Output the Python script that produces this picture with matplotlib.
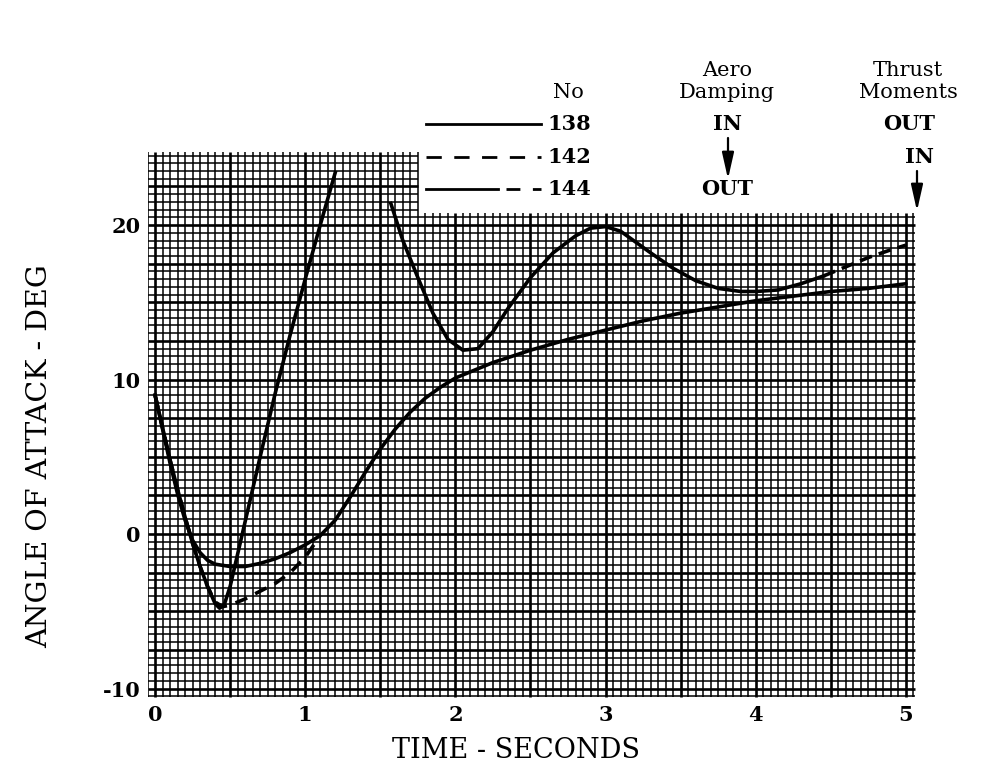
import numpy as np
import matplotlib
matplotlib.use("Agg")
import matplotlib.pyplot as plt
from matplotlib.lines import Line2D
from matplotlib.patches import FancyArrowPatch

# ---- data: angle of attack (deg) vs time (s) for three runs ----
t_138 = [0.0, 0.05, 0.1, 0.15, 0.2, 0.25, 0.3, 0.35, 0.4, 0.5, 0.6, 0.7, 0.8,
         0.9, 1.0, 1.1, 1.2, 1.3, 1.4, 1.5, 1.6, 1.7, 1.8, 1.9, 2.0, 2.25, 2.5,
         2.75, 3.0, 3.25, 3.5, 3.75, 4.0, 4.25, 4.5, 4.75, 5.0]
a_138 = [9.0, 6.8, 4.6, 2.6, 0.9, -0.4, -1.2, -1.7, -1.95, -2.1, -2.1, -1.9,
         -1.6, -1.2, -0.7, -0.1, 0.9, 2.4, 4.0, 5.5, 6.8, 7.9, 8.8, 9.5, 10.1,
         11.1, 11.9, 12.6, 13.2, 13.8, 14.3, 14.7, 15.1, 15.4, 15.7, 15.9, 16.2]

t_142 = [0.0, 0.05, 0.1, 0.15, 0.2, 0.25, 0.3, 0.35, 0.4, 0.45, 0.5, 0.6, 0.7,
         0.8, 0.9, 1.0, 1.05, 1.1]
a_142 = [9.0, 6.9, 4.8, 2.9, 1.1, -0.6, -2.1, -3.4, -4.4, -4.7, -4.6, -4.2,
         -3.7, -3.2, -2.5, -1.5, -0.8, -0.1]

t_144 = [0.0, 0.05, 0.1, 0.15, 0.2, 0.25, 0.3, 0.35, 0.4, 0.43, 0.46, 0.5,
         0.55, 0.6, 0.7, 0.8, 0.9, 1.0, 1.1, 1.2, 1.38, 1.57, 1.65, 1.75, 1.85,
         1.95, 2.05, 2.15, 2.25, 2.35, 2.5, 2.65, 2.8, 2.9, 3.0, 3.1, 3.2, 3.3,
         3.45, 3.6, 3.75, 3.9, 4.0, 4.15, 4.3, 4.45, 4.6, 4.75, 4.9, 5.0]
a_144 = [9.0, 6.9, 4.8, 2.9, 1.1, -0.6, -2.1, -3.4, -4.5, -4.8, -4.6, -3.4,
         -1.3, 0.8, 5.0, 9.1, 12.9, 16.5, 20.0, 23.4, np.nan, 21.4, 19.0, 16.6,
         14.3, 12.6, 11.9, 12.0, 13.1, 14.6, 16.6, 18.2, 19.3, 19.8, 19.9, 19.6,
         18.9, 18.2, 17.2, 16.4, 15.9, 15.7, 15.7, 15.8, 16.2, 16.7, 17.3, 17.9,
         18.4, 18.7]
solid_end_144 = 4.45   # 144 trace changes to dashes from here on

x_ticks = [0, 1, 2, 3, 4, 5]
y_ticks = [-10, 0, 10, 20]

run_numbers = ["138", "142", "144"]
aero_damping = ["IN", None, "OUT"]
thrust_moments = ["OUT", "IN", None]

# ---- figure ----
W, H = 985, 782
fig = plt.figure(figsize=(W / 100, H / 100), dpi=100)
FONT = "DejaVu Serif"

x0, x1 = -0.05, 5.1
y0, y1 = -10.6, 25.0
ax = fig.add_axes([0.14975, 0.10767, 0.78528, 0.70332])
ax.set_xlim(x0, x1)
ax.set_ylim(y0, y1)
for s in ax.spines.values():
    s.set_visible(False)

# graph-paper grid: a tall strip on the left, lower sheet on the right
cut_t, top_left, top_right = 1.75, 24.75, 20.75
g_left, g_right, g_bottom = -0.05, 5.06, -10.55

vt = np.round(np.arange(-1, 102) * 0.05, 3)
vt_top = np.where(vt <= cut_t + 1e-9, top_left, top_right)
major_v = np.isclose((vt / 0.5) % 1, 0) | np.isclose((vt / 0.5) % 1, 1)
ax.vlines(vt[~major_v], g_bottom, vt_top[~major_v], color="black", lw=1.1, zorder=1)
ax.vlines(vt[major_v], g_bottom, vt_top[major_v], color="black", lw=1.9, zorder=1)

hy = np.round(np.arange(-21, 50) * 0.5, 2)
hy_right = np.where(hy <= top_right + 1e-9, g_right, cut_t)
major_h = np.isclose((hy / 2.5) % 1, 0) | np.isclose((hy / 2.5) % 1, 1)
ax.hlines(hy[~major_h], g_left, hy_right[~major_h], color="black", lw=1.1, zorder=1)
ax.hlines(hy[major_h], g_left, hy_right[major_h], color="black", lw=1.9, zorder=1)

# ---- traces ----
LW = 2.6
ax.plot(t_138, a_138, color="black", lw=LW, solid_capstyle="round", zorder=3)
ax.plot(t_142, a_142, color="black", lw=LW, linestyle=(0, (3.5, 2.5)), zorder=3)

t144 = np.array(t_144)
a144 = np.array(a_144, dtype=float)
m_solid = t144 <= solid_end_144 + 1e-9
m_dash = t144 >= solid_end_144 - 1e-9
ax.plot(t144[m_solid], a144[m_solid], color="black", lw=LW, zorder=3)
ax.plot(t144[m_dash], a144[m_dash], color="black", lw=LW, linestyle=(0, (3.5, 2.0)), zorder=3)

# ---- ticks ----
ax.set_xticks(x_ticks)
ax.set_xticklabels([str(v) for v in x_ticks])
ax.set_yticks(y_ticks)
ax.set_yticklabels([str(v) for v in y_ticks])
ax.tick_params(length=0, labelsize=15, pad=5)
for lab in ax.get_xticklabels() + ax.get_yticklabels():
    lab.set_fontfamily(FONT)
    lab.set_fontweight("bold")

# ---- axis titles ----
def fx(px):
    return px / W

def fy(py):
    return 1 - py / H

fig.text(fx(516), fy(751), "TIME - SECONDS", family=FONT, fontsize=19.5,
         ha="center", va="center")
fig.text(fx(40), fy(456), "ANGLE OF ATTACK - DEG", family=FONT, fontsize=20.5,
         ha="center", va="center", rotation=90)

# ---- key table above the grid ----
TS = 15
hdr = dict(family=FONT, fontsize=TS, ha="center", va="center")
fig.text(fx(568), fy(93), "No", **hdr)
fig.text(fx(727), fy(70), "Aero", **hdr)
fig.text(fx(727), fy(93), "Damping", **hdr)
fig.text(fx(908), fy(70), "Thrust", **hdr)
fig.text(fx(908), fy(93), "Moments", **hdr)

cell = dict(family=FONT, fontsize=TS, ha="center", va="center", weight="bold")
row_y = [124, 157, 189]
for num, ad, tm, ry in zip(run_numbers, aero_damping, thrust_moments, row_y):
    fig.text(fx(569), fy(ry), num, **cell)
    if ad:
        fig.text(fx(727), fy(ry), ad, **cell)
    if tm:
        fig.text(fx(909 if tm == "OUT" else 920), fy(ry), tm, **cell)

# key line samples
key_x = [fx(426), fx(541)]
fig.add_artist(Line2D(key_x, [fy(124)] * 2, color="black", lw=2.0))
fig.add_artist(Line2D(key_x, [fy(157)] * 2, color="black", lw=2.0,
                      linestyle=(0, (5.5, 4.5))))
fig.add_artist(Line2D([fx(426), fx(498)], [fy(189)] * 2, color="black", lw=2.0))
fig.add_artist(Line2D([fx(506), fx(541)], [fy(189)] * 2, color="black", lw=2.0,
                      linestyle=(0, (5.0, 4.5))))

# "ditto" arrows
arrow_kw = dict(arrowstyle="-|>,head_length=0.8,head_width=0.18", color="black",
                lw=1.6, shrinkA=0, shrinkB=0, mutation_scale=20,
                transform=fig.transFigure)
fig.add_artist(FancyArrowPatch((fx(728), fy(138)), (fx(728), fy(179)), **arrow_kw))
fig.add_artist(FancyArrowPatch((fx(917), fy(171)), (fx(917), fy(211)), **arrow_kw))

fig.savefig("out.png", dpi=100, facecolor="white")
